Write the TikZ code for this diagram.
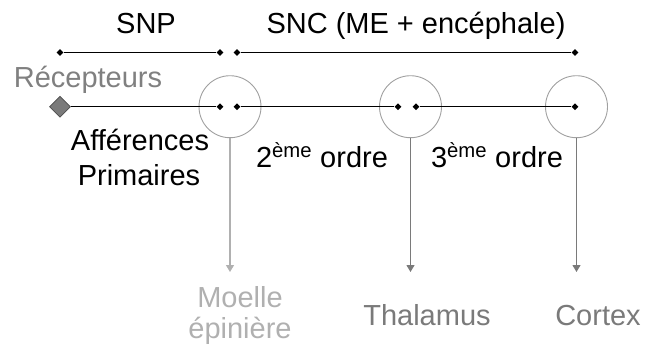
\documentclass[tikz,border=0pt]{standalone}
\usepackage{fontspec}
\setmainfont{Liberation Sans}
\usetikzlibrary{shapes.geometric,arrows.meta}
\definecolor{txtgray}{HTML}{808080}
\definecolor{lightgray2}{HTML}{B0B0B0}
\definecolor{darkgray2}{HTML}{7A7A7A}
\definecolor{ringgray}{HTML}{A0A0A0}
\begin{document}
\begin{tikzpicture}[x=1pt,y=-1pt,
  dot/.style={diamond,fill=black,inner sep=0pt,minimum size=7pt},
  lbl/.style={font=\fontsize{29}{34}\selectfont,inner sep=0pt,anchor=base},
  ring/.style={circle,draw=ringgray,line width=0.9pt,minimum size=62pt,inner sep=0pt},
  link/.style={line width=1.1pt,black},
  down/.style={line width=1.1pt,-{Triangle[width=8pt,length=7pt]}},
  recep/.style={diamond,fill=darkgray2,draw=black!70,line width=0.6pt,inner sep=0pt,minimum size=21pt}]
\useasboundingbox (0,0) rectangle (646,349);
% top brackets
\node[dot] (t1) at (60,52.5) {};
\node[dot] (t2) at (220,52.5) {};
\node[dot] (t3) at (237,52.5) {};
\node[dot] (t4) at (575,52.5) {};
\draw[link] (t1) -- (t2);
\draw[link] (t3) -- (t4);
\node[lbl] (snp) at (146,33) {SNP};
\node[lbl] (snc) at (416,33) {SNC (ME + encéphale)};
% rings
\node[ring] (r1) at (230,106.7) {};
\node[ring] (r2) at (410.5,106.7) {};
\node[ring] (r3) at (576.5,106.7) {};
% main line
\node[recep] (rec) at (60,106.7) {};
\node[dot] (m1) at (220,106.7) {};
\node[dot] (m2) at (237,106.7) {};
\node[dot] (m3) at (398,106.7) {};
\node[dot] (m4) at (416,106.7) {};
\node[dot] (m5) at (575,106.7) {};
\draw[link] (rec) -- (m1);
\draw[link] (m2) -- (m3);
\draw[link] (m4) -- (m5);
% labels
\node[lbl,text=txtgray] (lrec) at (88,87) {Récepteurs};
\node[lbl] (af1) at (140,150) {Afférences};
\node[lbl] (af2) at (139,185) {Primaires};
\node[lbl] (o2) at (322,167) {2\textsuperscript{ème} ordre};
\node[lbl] (o3) at (497,167) {3\textsuperscript{ème} ordre};
% down arrows
\coordinate (e1) at (230,272);
\coordinate (e2) at (410.5,272);
\coordinate (e3) at (576.5,272);
\draw[down,lightgray2] (r1.south) -- (e1);
\draw[down,darkgray2] (r2.south) -- (e2);
\draw[down,darkgray2] (r3.south) -- (e3);
% destinations
\node[lbl,text=lightgray2] (me1) at (240,307) {Moelle};
\node[lbl,text=lightgray2] (me2) at (240,338) {épinière};
\node[lbl,text=darkgray2] (thal) at (427,325) {Thalamus};
\node[lbl,text=darkgray2] (cort) at (598,325) {Cortex};
\end{tikzpicture}
\end{document}
